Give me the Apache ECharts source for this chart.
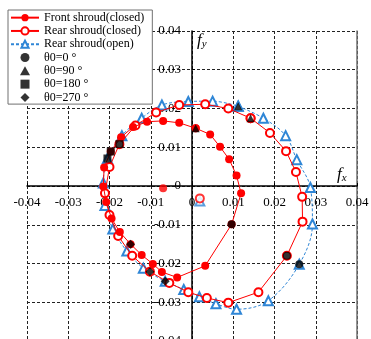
<!DOCTYPE html>
<html><head><meta charset="utf-8">
<script src="https://cdn.jsdelivr.net/npm/echarts/dist/echarts.min.js"></script>
<style>html,body{margin:0;padding:0;background:#fff}#c{width:371px;height:339px}</style>
</head><body><div id="c"></div>
<script>
// Axis ticks
const axisMin = -0.04, axisMax = 0.04, axisStep = 0.01;

// Orbit points, starting at θ0=90°, 15° per step (θ0=0 at index 6, 270 at 12, 180 at 18)
const frontShroudClosed = [
  [0.0009,0.0149],[0.0044,0.0133],[0.0068,0.0101],[0.0090,0.0069],[0.0108,0.0027],[0.0119,-0.0019],
  [0.0096,-0.0099],[0.0032,-0.0206],[-0.0036,-0.0236],[-0.0073,-0.0222],[-0.0095,-0.0201],[-0.0122,-0.0178],
  [-0.0149,-0.0150],[-0.0175,-0.0119],[-0.0195,-0.0084],[-0.0208,-0.0041],[-0.0215,-0.0001],[-0.0213,0.0048],
  [-0.0197,0.0089],[-0.0172,0.0126],[-0.0143,0.0152],[-0.0109,0.0166],[-0.0070,0.0168],[-0.0031,0.0163]
];
const rearShroudClosed = [
  [0.0142,0.0175],[0.0189,0.0137],[0.0228,0.0090],[0.0252,0.0036],[0.0267,-0.0028],[0.0268,-0.0092],
  [0.0230,-0.0180],[0.0161,-0.0274],[0.0088,-0.0301],[0.0036,-0.0289],[-0.0009,-0.0274],[-0.0055,-0.0250],
  [-0.0102,-0.0221],[-0.0145,-0.0180],[-0.0179,-0.0129],[-0.0200,-0.0075],[-0.0211,-0.0019],[-0.0200,0.0049],
  [-0.0176,0.0108],[-0.0137,0.0156],[-0.0087,0.0190],[-0.0031,0.0209],[0.0032,0.0211],[0.0088,0.0200]
];
const rearShroudOpen = [
  [0.0112,0.0206],[0.0173,0.0175],[0.0227,0.0130],[0.0254,0.0068],[0.0287,-0.0004],[0.0292,-0.0098],
  [0.0260,-0.0202],[0.0185,-0.0296],[0.0108,-0.0318],[0.0058,-0.0304],[0.0018,-0.0286],[-0.0020,-0.0267],
  [-0.0065,-0.0246],[-0.0118,-0.0212],[-0.0158,-0.0168],[-0.0192,-0.0111],[-0.0211,-0.0050],[-0.0215,0.0008],
  [-0.0205,0.0071],[-0.0170,0.0130],[-0.0122,0.0175],[-0.0073,0.0209],[-0.0009,0.0218],[0.0050,0.0219]
];
// Orbit centres
const frontCentre = [-0.0070,-0.0006];
const rearClosedCentre = [0.0019,-0.0032];
const rearOpenCentre = [0.0019,-0.0039];

// θ0 positions (index into the orbit arrays)
const thetaNames = ['θ0=0 °','θ0=90 °','θ0=180 °','θ0=270 °'];
const thetaIndex = [6, 0, 18, 12];
const thetaSymbols = ['circle','triangle','rect','diamond'];
const thetaLegendIcons = ['circle','path://M5,0L10,9L0,9Z','path://M0,0H10V10H0Z','path://M5,0L10,5L5,10L0,5Z'];

const seriesNames = ['Front shroud(closed)','Rear shroud(closed)','Rear shroud(open)'];
const RED = '#ff0000', BLUE = '#2f86d6';
const serif = 'Liberation Serif';
const closeLoop = a => a.concat([a[0]]);
const fmt = v => (Math.abs(v) < 1e-9 ? '0' : String(Math.round(v * 100) / 100));

const orbits = [frontShroudClosed, rearShroudClosed, rearShroudOpen];

const GRID = { left: 27, top: 31, width: 330, height: 310 };

const series = [
  { name: seriesNames[2], type: 'line', data: closeLoop(rearShroudOpen), smooth: 0.35,
    symbol: 'emptyTriangle', symbolSize: 9, z: 2,
    lineStyle: { color: BLUE, width: 1, type: [3, 2] }, itemStyle: { color: BLUE, borderWidth: 1 } },
  { name: seriesNames[1], type: 'line', data: closeLoop(rearShroudClosed),
    symbol: 'emptyCircle', symbolSize: 8, z: 3,
    lineStyle: { color: RED, width: 1 }, itemStyle: { color: RED, borderWidth: 1 } },
  { name: seriesNames[0], type: 'line', data: closeLoop(frontShroudClosed),
    symbol: 'circle', symbolSize: 8, z: 4,
    lineStyle: { color: RED, width: 1 }, itemStyle: { color: RED } },
  { name: 'c2', type: 'scatter', data: [rearOpenCentre], symbol: 'emptyTriangle', symbolSize: 9,
    itemStyle: { color: BLUE, borderWidth: 1 }, z: 2 },
  { name: 'c1', type: 'scatter', data: [rearClosedCentre], symbol: 'emptyCircle', symbolSize: 8,
    itemStyle: { color: RED, borderWidth: 1 }, z: 3 },
  { name: 'c0', type: 'scatter', data: [frontCentre], symbol: 'circle', symbolSize: 8,
    itemStyle: { color: RED }, z: 4 }
];
thetaNames.forEach((nm, k) => {
  series.push({ name: nm, type: 'scatter', symbol: thetaSymbols[k], symbolSize: k === 3 ? 9 : 8,
    data: orbits.map(o => o[thetaIndex[k]]), itemStyle: { color: '#000' }, z: 6 });
});

const chart = echarts.init(document.getElementById('c'), null, { renderer: 'canvas' });
chart.setOption({
  animation: false,
  backgroundColor: '#fff',
  grid: Object.assign({ containLabel: false, outerBoundsMode: 'none' }, GRID),
  legend: {
    orient: 'vertical', left: 8, top: 10,
    backgroundColor: '#fff', borderColor: '#707070', borderWidth: 1, borderRadius: 0,
    padding: [1, 8, 0, 2], itemWidth: 28, itemHeight: 9, itemGap: 0, symbolKeepAspect: true,
    textStyle: { fontFamily: serif, fontSize: 12, color: '#000', lineHeight: 13.3 },
    data: seriesNames.map(n => ({ name: n }))
      .concat(thetaNames.map((n, k) => ({ name: n, icon: thetaLegendIcons[k] })))
  },
  xAxis: {
    type: 'value', min: axisMin, max: axisMax, interval: axisStep,
    position: 'bottom', offset: -GRID.height / 2,
    axisLine: { onZero: false, lineStyle: { color: '#000', width: 1.5 } },
    axisTick: { inside: true, length: 3, lineStyle: { color: '#000' } },
    axisLabel: { formatter: fmt, fontFamily: serif, fontSize: 13, color: '#000', margin: 10, showMinLabel: true, showMaxLabel: true },
    splitLine: { show: true, lineStyle: { color: '#222', width: 1, type: [3, 2] } }
  },
  yAxis: [{
    type: 'value', min: axisMin, max: axisMax, interval: axisStep,
    position: 'left', offset: -GRID.width / 2,
    axisLine: { onZero: false, lineStyle: { color: '#000', width: 1.5 } },
    axisTick: { inside: true, length: 3, lineStyle: { color: '#000' } },
    axisLabel: { formatter: fmt, fontFamily: serif, fontSize: 13, color: '#000', margin: 11, showMinLabel: true, showMaxLabel: true },
    splitLine: { show: true, lineStyle: { color: '#222', width: 1, type: [3, 2] } }
  }, {
    type: 'value', min: axisMin, max: axisMax, interval: axisStep, position: 'right',
    axisLine: { show: true, onZero: false, lineStyle: { color: '#707070', width: 1.5 } },
    axisTick: { show: false }, axisLabel: { show: false }, splitLine: { show: false }
  }],
  graphic: [
    { type: 'text', left: 337, top: 166, z: 10,
      style: { text: '{f|f}{s|x}', rich: {
        f: { fontFamily: serif, fontStyle: 'italic', fontSize: 17, fill: '#000' },
        s: { fontFamily: serif, fontStyle: 'italic', fontSize: 11, fill: '#000', padding: [8, 0, 0, 0] } } } },
    { type: 'text', left: 197, top: 32, z: 10,
      style: { text: '{f|f}{s|y}', rich: {
        f: { fontFamily: serif, fontStyle: 'italic', fontSize: 17, fill: '#000' },
        s: { fontFamily: serif, fontStyle: 'italic', fontSize: 11, fill: '#000', padding: [8, 0, 0, 0] } } } }
  ],
  series: series
});
</script></body></html>
